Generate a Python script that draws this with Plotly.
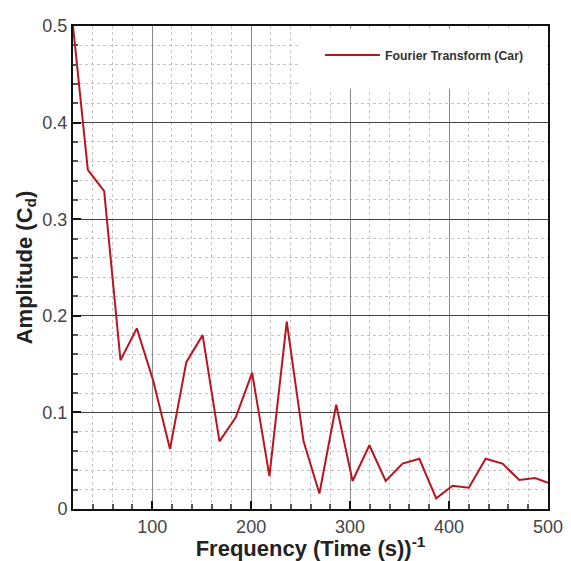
import plotly.graph_objects as go

# Fourier transform of drag coefficient (car)
freq = [20, 35, 51.5, 68, 84.5, 101, 118, 134.5, 151, 168, 184.5, 201, 218.5, 236,
        253, 269, 286, 302.5, 319.5, 336, 353, 370, 387, 403.5, 420, 437, 454, 471,
        487, 500]
amp = [0.5, 0.351, 0.329, 0.154, 0.187, 0.133, 0.062, 0.152, 0.180, 0.070, 0.095,
       0.141, 0.034, 0.194, 0.070, 0.016, 0.108, 0.029, 0.066, 0.029, 0.047, 0.052,
       0.011, 0.024, 0.022, 0.052, 0.047, 0.030, 0.032, 0.027]

fig = go.Figure()
fig.add_trace(go.Scatter(x=freq, y=amp, mode='lines', name='<b>Fourier Transform (Car)</b>',
                         line=dict(color='#bb1420', width=2)))

# white box behind the legend, hiding the grid there
fig.add_shape(type='rect', xref='paper', yref='paper', x0=0.479, x1=0.994, y0=0.87, y1=0.995,
              fillcolor='white', line_width=0, layer='above')

# page body adds an 8px offset, so the figure is 8px smaller and margins shifted
fig.update_layout(
    width=563, height=553,
    margin=dict(l=65, r=18, t=8, b=52),
    plot_bgcolor='white', paper_bgcolor='white',
    font=dict(family='Liberation Sans, Arial', color='#333'),
    showlegend=True,
    legend=dict(x=0.52, y=0.94, xanchor='left', yanchor='middle', bgcolor='rgba(0,0,0,0)',
                font=dict(size=12.3, color='#333', family='Liberation Sans, Arial'),
                itemwidth=55),
)
fig.update_xaxes(
    range=[20, 500], tick0=0, dtick=100, ticks='inside', ticklen=8, tickwidth=2, tickcolor='#111',
    showgrid=True, gridcolor='#8a8a8a', gridwidth=1,
    showline=True, linecolor='#111', linewidth=2, mirror=True, zeroline=False,
    tickfont=dict(size=18, color='#444'),
    title=dict(text='<b>Frequency (Time (s))<sup>-1</sup></b>', font=dict(size=22, color='#222'), standoff=0),
    minor=dict(dtick=20, tick0=0, showgrid=True, gridcolor='#c4c4c4', griddash='dot', gridwidth=1,
               ticks='inside', ticklen=5, tickcolor='#555'),
)
fig.update_yaxes(
    range=[0, 0.5], dtick=0.1, ticks='inside', ticklen=8, tickwidth=2, tickcolor='#111',
    showgrid=True, gridcolor='#444', gridwidth=1,
    showline=True, linecolor='#111', linewidth=2, mirror=True, zeroline=False,
    tickfont=dict(size=18, color='#444'),
    title=dict(text='<b>Amplitude (C<sub>d</sub>)</b>', font=dict(size=22, color='#222'), standoff=4),
    minor=dict(dtick=0.02, showgrid=True, gridcolor='#c4c4c4', griddash='dot', gridwidth=1,
               ticks='inside', ticklen=5, tickcolor='#555'),
)

fig.write_html("out.html", config={'displayModeBar': False})
